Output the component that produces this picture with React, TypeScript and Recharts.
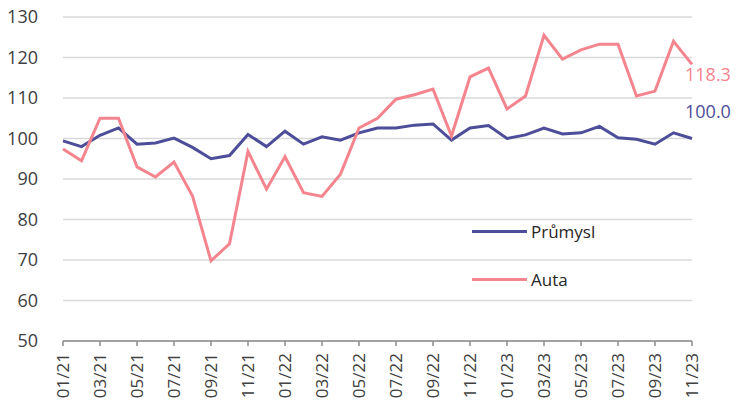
import React from 'react';
import { LineChart, Line, XAxis, YAxis, CartesianGrid, LabelList } from 'recharts';

const months = [
  '01/21', '02/21', '03/21', '04/21', '05/21', '06/21', '07/21', '08/21', '09/21', '10/21', '11/21', '12/21',
  '01/22', '02/22', '03/22', '04/22', '05/22', '06/22', '07/22', '08/22', '09/22', '10/22', '11/22', '12/22',
  '01/23', '02/23', '03/23', '04/23', '05/23', '06/23', '07/23', '08/23', '09/23', '10/23', '11/23',
];

const prumysl = [
  99.4, 98.0, 100.8, 102.6, 98.6, 98.9, 100.1, 97.8, 95.0, 95.8, 101.0, 98.0,
  101.8, 98.6, 100.4, 99.6, 101.4, 102.6, 102.6, 103.3, 103.6, 99.6, 102.6, 103.2,
  100.0, 100.9, 102.6, 101.1, 101.4, 103.0, 100.2, 99.8, 98.6, 101.4, 100.0,
];

const auta = [
  97.4, 94.5, 105.0, 105.0, 93.0, 90.5, 94.2, 85.8, 69.8, 74.0, 96.8, 87.5,
  95.5, 86.6, 85.7, 91.2, 102.6, 105.0, 109.7, 110.8, 112.2, 100.6, 115.2, 117.4,
  107.3, 110.5, 125.5, 119.6, 121.9, 123.3, 123.3, 110.5, 111.7, 124.0, 118.3,
];

const yTicks = [50, 60, 70, 80, 90, 100, 110, 120, 130];

const BLUE = '#4d4d9a';
const PINK = '#f4848e';
const FONT = '"Open Sans", sans-serif';

const data = months.map((m, i) => ({ month: m, prumysl: prumysl[i], auta: auta[i] }));
const last = months.length - 1;

const series = [
  { name: 'Průmysl', color: BLUE },
  { name: 'Auta', color: PINK },
];

const XTick = (props: any) => {
  const { x, y, payload } = props;
  return (
    <text
      x={x}
      y={y + 5}
      transform={`rotate(-90, ${x}, ${y + 5})`}
      textAnchor="end"
      dy="0.35em"
      fill="#404040"
      fontSize={17}
      fontFamily={FONT}
    >
      {payload.value}
    </text>
  );
};

const endLabel = (color: string, dy: number) => (props: any) => {
  const { x, y, index, value } = props;
  if (index !== last) return null;
  return (
    <text x={x - 7} y={y + dy} dy="0.35em" fill={color} fontSize={18} fontFamily={FONT}>
      {Number(value).toFixed(1)}
    </text>
  );
};

export default function App() {
  return (
    <div style={{ position: 'absolute', left: 0, top: 0, width: 736, height: 410, background: '#fff' }}>
      <LineChart width={736} height={410} data={data} margin={{ top: 17, right: 44, bottom: 0, left: 0 }}>
        <CartesianGrid vertical={false} stroke="#d9d9d9" strokeWidth={1.5} />
        <XAxis
          dataKey="month"
          interval={1}
          height={69}
          tick={<XTick />}
          tickSize={5}
          axisLine={{ stroke: '#8c8c8c', strokeWidth: 1.5 }}
          tickLine={{ stroke: '#8c8c8c', strokeWidth: 1.5 }}
        />
        <YAxis
          domain={[50, 130]}
          ticks={yTicks}
          width={63}
          axisLine={false}
          tickLine={false}
          tickMargin={19}
          tick={{ fill: '#404040', fontSize: 18, fontFamily: FONT }}
        />
        <Line dataKey="prumysl" name="Průmysl" stroke={BLUE} strokeWidth={3} dot={false} isAnimationActive={false}>
          <LabelList dataKey="prumysl" content={endLabel(BLUE, -27)} />
        </Line>
        <Line dataKey="auta" name="Auta" stroke={PINK} strokeWidth={3} dot={false} isAnimationActive={false}>
          <LabelList dataKey="auta" content={endLabel(PINK, 10)} />
        </Line>
      </LineChart>
      <div style={{ position: 'absolute', left: 472, top: 219, fontFamily: FONT, fontSize: 17, color: '#262626' }}>
        {series.map((it, i) => (
          <div key={it.name} style={{ display: 'flex', alignItems: 'center', height: 24, marginBottom: i === 0 ? 24 : 0 }}>
            <div style={{ width: 55, height: 3, background: it.color, marginRight: 4 }} />
            <span>{it.name}</span>
          </div>
        ))}
      </div>
    </div>
  );
}
